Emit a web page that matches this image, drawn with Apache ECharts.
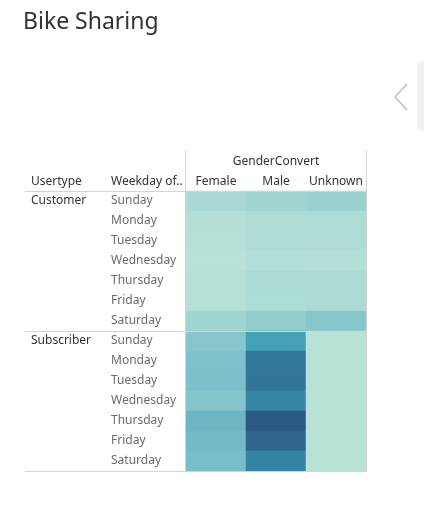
<!DOCTYPE html>
<html>
<head>
<meta charset="utf-8">
<script src="https://cdn.jsdelivr.net/npm/echarts@6/dist/echarts.min.js"></script>
<style>html,body{margin:0;padding:0;background:#fff;}#c{width:424px;height:519px;}</style>
</head>
<body>
<div id="c"></div>
<script>
const genders = ['Female', 'Male', 'Unknown'];
const weekdays = ['Sunday', 'Monday', 'Tuesday', 'Wednesday', 'Thursday', 'Friday', 'Saturday'];
const usertypes = ['Customer', 'Subscriber'];
// trip counts (estimated from colour intensity)
const customerFemale = [1500, 600, 500, 300, 500, 500, 2000];
const customerMale = [2000, 1000, 1000, 800, 1200, 1100, 3200];
const customerUnknown = [2600, 1100, 1000, 700, 1200, 1200, 4200];
const subscriberFemale = [4200, 5000, 5100, 4500, 6500, 6000, 5500];
const subscriberMale = [9600, 15000, 15300, 13000, 19000, 17500, 13300];
const subscriberUnknown = [200, 200, 200, 200, 200, 200, 200];

const palette = ["#bce4d8","#aedcd5","#a1d5d2","#95cecf","#89c8cc","#7ec1ca","#72bac6","#66b2c2","#59acbe","#4ba5ba","#419eb6","#3b96b2","#358ead","#3586a7","#347ea1","#32779b","#316f96","#2f6790","#2d608a","#2c5985"];

const rows = [];
usertypes.forEach(u => weekdays.forEach(d => rows.push(u + '|' + d)));
const byType = {
  Customer: [customerFemale, customerMale, customerUnknown],
  Subscriber: [subscriberFemale, subscriberMale, subscriberUnknown]
};
const data = [];
usertypes.forEach((u, ui) => {
  byType[u].forEach((arr, gi) => {
    arr.forEach((v, di) => data.push([gi, ui * 7 + di, v]));
  });
});

const chart = echarts.init(document.getElementById('c'));
const lineColor = '#d4d4d4';
const font = 'Noto Sans, sans-serif';
chart.setOption({
  animation: false,
  textStyle: { fontFamily: font },
  title: {
    text: 'Bike Sharing', left: 18, top: 6,
    textStyle: { fontSize: 23, fontWeight: 'normal', color: '#333', fontFamily: font }
  },
  grid: { left: 186, top: 191, width: 180, height: 280 },
  xAxis: {
    type: 'category', position: 'top', data: genders,
    axisLine: { show: false }, axisTick: { show: false }, splitLine: { show: false },
    axisLabel: { color: '#333', fontSize: 12, margin: 3, interval: 0, hideOverlap: false },
    name: 'GenderConvert', nameLocation: 'middle', nameGap: 23,
    nameTextStyle: { color: '#333', fontSize: 12 }
  },
  yAxis: [{
    type: 'category', data: rows, inverse: true,
    axisLine: { show: false }, axisTick: { show: false }, splitLine: { show: false },
    axisLabel: { align: 'left', margin: 75, color: '#6b6b6b', fontSize: 12, interval: 0,
      verticalAlign: 'middle', lineHeight: 16, padding: [6, 0, 0, 0],
      formatter: v => v.split('|')[1] }
  }, {
    type: 'category', data: rows, inverse: true, position: 'left',
    axisLine: { show: false }, axisTick: { show: false }, splitLine: { show: false },
    axisLabel: { align: 'left', margin: 155, color: '#333', fontSize: 12, interval: 0,
      verticalAlign: 'middle', lineHeight: 16, padding: [6, 0, 0, 0],
      formatter: v => v.split('|')[1] === 'Sunday' ? v.split('|')[0] : '' }
  }],
  visualMap: {
    show: false, min: 0, max: 19000, dimension: 2,
    inRange: { color: palette }
  },
  series: [{
    type: 'heatmap', data: data,
    itemStyle: { borderWidth: 0 }
  }],
  graphic: [
    { type: 'text', left: 31, top: 176, style: { text: 'Usertype', fill: '#333', fontSize: 12, fontFamily: font } },
    { type: 'text', left: 111, top: 176, style: { text: 'Weekday of..', fill: '#333', fontSize: 12, fontFamily: font } },
    { type: 'line', shape: { x1: 185.5, y1: 150, x2: 185.5, y2: 471 }, style: { stroke: lineColor, lineWidth: 1 }, z: 10 },
    { type: 'line', shape: { x1: 366.5, y1: 150, x2: 366.5, y2: 471 }, style: { stroke: lineColor, lineWidth: 1 }, z: 10 },
    { type: 'line', shape: { x1: 25, y1: 191.5, x2: 367, y2: 191.5 }, style: { stroke: lineColor, lineWidth: 1 }, z: 10 },
    { type: 'line', shape: { x1: 25, y1: 331.5, x2: 367, y2: 331.5 }, style: { stroke: lineColor, lineWidth: 1 }, z: 10 },
    { type: 'line', shape: { x1: 25, y1: 471.5, x2: 367, y2: 471.5 }, style: { stroke: lineColor, lineWidth: 1 }, z: 10 },
    { type: 'polyline', shape: { points: [[407, 84], [395, 97], [407, 110]] }, style: { stroke: '#bdbdbd', lineWidth: 1.5, fill: null } },
    { type: 'rect', shape: { x: 417, y: 62, width: 7, height: 68 }, style: { fill: '#f0f0f0' } }
  ]
});
</script>
</body>
</html>
